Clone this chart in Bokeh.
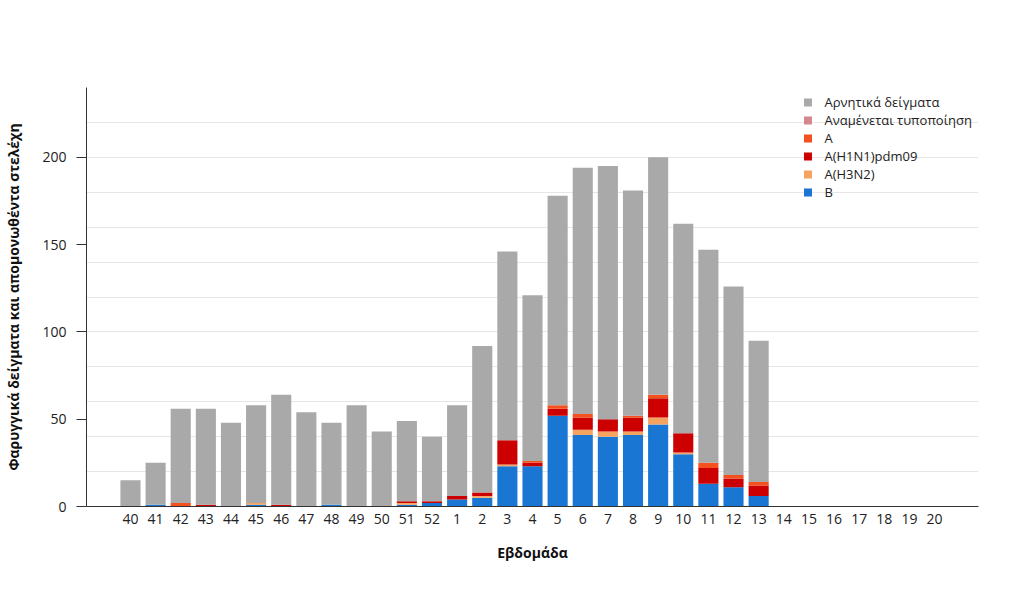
from bokeh.plotting import figure
from bokeh.models import FactorRange, Range1d, SingleIntervalTicker, FixedTicker, ColumnDataSource
from bokeh.embed import file_html
from bokeh.resources import INLINE

weeks = ["40", "41", "42", "43", "44", "45", "46", "47", "48", "49", "50", "51", "52",
         "1", "2", "3", "4", "5", "6", "7", "8", "9", "10", "11", "12", "13",
         "14", "15", "16", "17", "18", "19", "20"]

b_vals =       [0, 1, 0, 0, 0, 1, 0, 0, 1, 0, 0, 1, 2, 4, 5, 23, 23, 52, 41, 40, 41, 47, 30, 13, 11, 6, 0, 0, 0, 0, 0, 0, 0]
h3n2_vals =    [0, 0, 0, 0, 0, 1, 0, 0, 0, 0, 0, 1, 0, 0, 1, 1, 0, 0, 3, 3, 2, 4, 1, 0, 0, 0, 0, 0, 0, 0, 0, 0, 0]
h1n1_vals =    [0, 0, 0, 1, 0, 0, 1, 0, 0, 0, 0, 1, 1, 2, 2, 14, 2, 4, 7, 7, 8, 11, 11, 9, 5, 6, 0, 0, 0, 0, 0, 0, 0]
a_vals =       [0, 0, 2, 0, 0, 0, 0, 0, 0, 0, 0, 0, 0, 0, 0, 0, 1, 2, 2, 0, 1, 2, 0, 3, 2, 2, 0, 0, 0, 0, 0, 0, 0]
pending_vals = [0, 0, 0, 0, 0, 0, 0, 0, 0, 0, 0, 0, 0, 0, 0, 0, 0, 0, 0, 0, 0, 0, 0, 0, 0, 0, 0, 0, 0, 0, 0, 0, 0]
neg_vals =     [15, 24, 54, 55, 48, 56, 63, 54, 47, 58, 43, 46, 37, 52, 84, 108, 95, 120, 141, 145, 129, 136, 120, 122, 108, 81, 0, 0, 0, 0, 0, 0, 0]

series_keys = ["b", "h3n2", "h1n1", "a", "pending", "neg"]
series_labels = ["B", "A(H3N2)", "A(H1N1)pdm09", "A", "Αναμένεται τυποποίηση", "Αρνητικά δείγματα"]
series_colors = ["#1976d2", "#f4a460", "#cc0000", "#f4511e", "#d4878f", "#a9a9a9"]

src = ColumnDataSource(dict(week=weeks, b=b_vals, h3n2=h3n2_vals, h1n1=h1n1_vals,
                            a=a_vals, pending=pending_vals, neg=neg_vals))

FONT = "Open Sans"

p = figure(x_range=FactorRange(factors=weeks, range_padding=1.25, range_padding_units="absolute"),
           y_range=Range1d(0, 240),
           width=1008, height=598, output_backend="svg", toolbar_location=None,
           min_border_left=86, min_border_right=30, min_border_top=87, min_border_bottom=92)

renderers = p.vbar_stack(series_keys, x="week", width=0.8, color=series_colors,
                         line_color=None, source=src, legend_label=series_labels)

p.outline_line_color = None
p.background_fill_color = "white"

p.xgrid.visible = False
p.ygrid.ticker = SingleIntervalTicker(interval=20)
p.ygrid.grid_line_color = "#e6e6e6"

p.yaxis.ticker = FixedTicker(ticks=[0, 50, 100, 150, 200])
p.yaxis.minor_tick_line_color = None
p.yaxis.major_tick_out = 10
p.yaxis.major_tick_in = 0
p.yaxis.major_label_standoff = 10
p.yaxis.axis_label = "Φαρυγγικά δείγματα και απομονωθέντα στελέχη"
p.yaxis.axis_label_standoff = 16
p.yaxis.axis_line_color = "#333333"
p.yaxis.major_tick_line_color = "#333333"

p.xaxis.major_tick_line_color = None
p.xaxis.major_tick_out = 0
p.xaxis.major_tick_in = 0
p.xaxis.major_label_standoff = 7
p.xaxis.axis_label = "Εβδομάδα"
p.xaxis.axis_label_standoff = 16
p.xaxis.axis_line_color = "#333333"

for ax in (p.xaxis[0], p.yaxis[0]):
    ax.major_label_text_font = FONT
    ax.major_label_text_font_size = "14px"
    ax.major_label_text_color = "#222222"
    ax.axis_label_text_font = FONT
    ax.axis_label_text_font_size = "14px"
    ax.axis_label_text_font_style = "bold"
    ax.axis_label_text_color = "#111111"

leg = p.legend[0]
leg.items = list(reversed(leg.items))
leg.location = "top_right"
leg.margin = 0
leg.padding = 6
leg.border_line_alpha = 0
leg.background_fill_alpha = 0
leg.glyph_width = 10
leg.glyph_height = 10
leg.label_height = 14
leg.spacing = -1
leg.label_text_font = FONT
leg.label_text_font_size = "13px"
leg.label_text_color = "#222222"
leg.label_standoff = 12

open("out.html", "w").write(file_html(p, INLINE))
